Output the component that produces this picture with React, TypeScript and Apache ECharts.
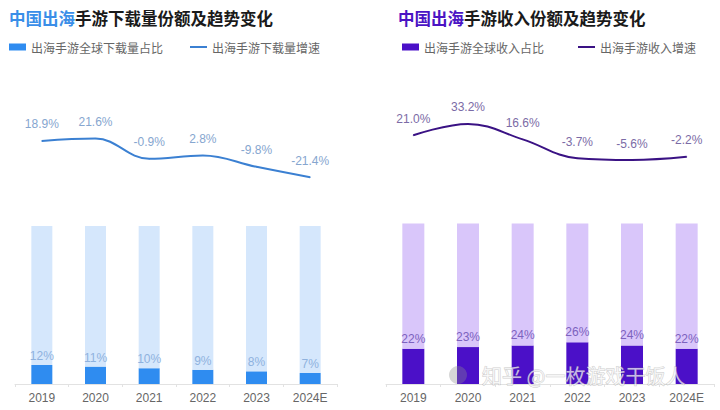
import React, { useEffect, useRef } from "react";
import * as echarts from "echarts";

const years = ["2019", "2020", "2021", "2022", "2023", "2024E"];
const downloadShare = [12, 11, 10, 9, 8, 7];
const downloadGrowth = [18.9, 21.6, -0.9, 2.8, -9.8, -21.4];
const revenueShare = [22, 23, 24, 26, 24, 22];
const revenueGrowth = [21.0, 33.2, 16.6, -3.7, -5.6, -2.2];

const FONT = "'Liberation Sans', Arial, 'Noto Sans CJK SC', sans-serif";
const CJK = "'Noto Sans CJK SC', 'Liberation Sans', sans-serif";

export default function App() {
  const ref = useRef<HTMLDivElement>(null);
  useEffect(() => {
    document.body.style.margin = "0";
    const chart = echarts.init(ref.current!, null, { renderer: "svg" });
    const rest = (arr: number[]) => arr.map((v) => 100 - v);
    const pct1 = (p: any) => `${Number(p.value).toFixed(1)}%`;
    const pct0 = (p: any) => `${p.value}%`;

    chart.setOption({
      animation: false,
      backgroundColor: "#ffffff",
      title: [
        {
          left: 4,
          top: 5,
          text: "{a|中国出海}{b|手游下载量份额及趋势变化}",
          textStyle: {
            rich: {
              a: { fontSize: 16.5, fontWeight: "bold", color: "#3a8ee8", fontFamily: CJK },
              b: { fontSize: 16.5, fontWeight: "bold", color: "#1a1a1a", fontFamily: CJK },
            },
          },
        },
        {
          left: 393,
          top: 5,
          text: "{a|中国出海}{b|手游收入份额及趋势变化}",
          textStyle: {
            rich: {
              a: { fontSize: 16.5, fontWeight: "bold", color: "#4b14c4", fontFamily: CJK },
              b: { fontSize: 16.5, fontWeight: "bold", color: "#1a1a1a", fontFamily: CJK },
            },
          },
        },
      ],
      legend: [
        {
          left: 4,
          top: 36,
          itemWidth: 17,
          itemHeight: 7,
          itemGap: 26,
          textStyle: { color: "#666", fontSize: 12, fontFamily: CJK },
          data: [
            { name: "出海手游全球下载量占比", icon: "rect" },
            { name: "出海手游下载量增速", itemStyle: { opacity: 0 } },
          ],
        },
        {
          left: 397,
          top: 36,
          itemWidth: 17,
          itemHeight: 7,
          itemGap: 33,
          textStyle: { color: "#666", fontSize: 12, fontFamily: CJK },
          data: [
            { name: "出海手游全球收入占比", icon: "rect" },
            { name: "出海手游收入增速", itemStyle: { opacity: 0 } },
          ],
        },
      ],
      grid: [
        { left: 15, right: 383, top: 122, height: 63 },
        { left: 15, right: 383, top: 226, height: 158 },
        { left: 386, right: 6, top: 117.6, height: 46.5 },
        { left: 386, right: 6, top: 223.5, height: 160.5 },
      ],
      xAxis: [0, 1, 2, 3].map((i) => ({
        type: "category",
        gridIndex: i,
        data: years,
        boundaryGap: true,
        show: i === 1 || i === 3,
        axisLine: { lineStyle: { color: "#e2e2e2" } },
        axisTick: { show: true, length: 3, lineStyle: { color: "#e2e2e2" } },
        axisLabel: { color: "#666", fontSize: 12, fontFamily: FONT, margin: 8 },
      })),
      yAxis: [
        { type: "value", gridIndex: 0, min: -30, max: 40, show: false },
        { type: "value", gridIndex: 1, min: 0, max: 100, show: false },
        { type: "value", gridIndex: 2, min: -10, max: 40, show: false },
        { type: "value", gridIndex: 3, min: 0, max: 100, show: false },
      ],
      series: [
        {
          name: "出海手游下载量增速",
          type: "line",
          xAxisIndex: 0,
          yAxisIndex: 0,
          data: downloadGrowth,
          smooth: 0.4,
          symbol: "circle",
          symbolSize: 1,
          showSymbol: true,
          lineStyle: { color: "#3b80d2", width: 2 },
          itemStyle: { color: "#3b80d2" },
          label: {
            show: true,
            position: "top",
            distance: 10,
            color: "#86a6cf",
            fontSize: 12,
            fontFamily: FONT,
            formatter: pct1,
          },
        },
        {
          name: "出海手游全球下载量占比",
          type: "bar",
          xAxisIndex: 1,
          yAxisIndex: 1,
          stack: "d",
          barWidth: 21,
          data: downloadShare,
          itemStyle: { color: "#2f8cf0" },
          label: {
            show: true,
            position: "top",
            distance: 3,
            color: "#8fb2de",
            fontSize: 12,
            fontFamily: FONT,
            formatter: pct0,
          },
        },
        {
          name: "下载量其余",
          type: "bar",
          xAxisIndex: 1,
          yAxisIndex: 1,
          stack: "d",
          barWidth: 21,
          data: rest(downloadShare),
          itemStyle: { color: "#d5e7fc" },
        },
        {
          name: "出海手游收入增速",
          type: "line",
          xAxisIndex: 2,
          yAxisIndex: 2,
          data: revenueGrowth,
          smooth: 0.4,
          symbol: "circle",
          symbolSize: 1,
          showSymbol: true,
          lineStyle: { color: "#3a1284", width: 2 },
          itemStyle: { color: "#3a1284" },
          label: {
            show: true,
            position: "top",
            distance: 10,
            color: "#7b6ba6",
            fontSize: 12,
            fontFamily: FONT,
            formatter: pct1,
          },
        },
        {
          name: "出海手游全球收入占比",
          type: "bar",
          xAxisIndex: 3,
          yAxisIndex: 3,
          stack: "r",
          barWidth: 22,
          data: revenueShare,
          itemStyle: { color: "#4b10c8" },
          label: {
            show: true,
            position: "top",
            distance: 4,
            color: "#7c62be",
            fontSize: 12,
            fontFamily: FONT,
            formatter: pct0,
          },
        },
        {
          name: "收入其余",
          type: "bar",
          xAxisIndex: 3,
          yAxisIndex: 3,
          stack: "r",
          barWidth: 22,
          data: rest(revenueShare),
          itemStyle: { color: "#d9c6fa" },
        },
      ],
      graphic: [
        {
          type: "circle",
          shape: { cx: 458, cy: 375, r: 9 },
          style: { fill: "rgba(140,140,140,0.35)" },
          z: 100,
        },
        {
          type: "text",
          x: 482,
          y: 375,
          z: 100,
          style: {
            text: "知乎 @一枚游戏干饭人",
            font: `20px ${CJK}`,
            fill: "rgba(255,255,255,0.7)",
            stroke: "rgba(110,110,110,0.35)",
            lineWidth: 1,
            verticalAlign: "middle",
          },
        },
      ],
    });
    return () => chart.dispose();
  }, []);

  return (
    <div
      ref={ref}
      style={{ position: "absolute", left: 0, top: 0, width: 720, height: 410 }}
    />
  );
}
